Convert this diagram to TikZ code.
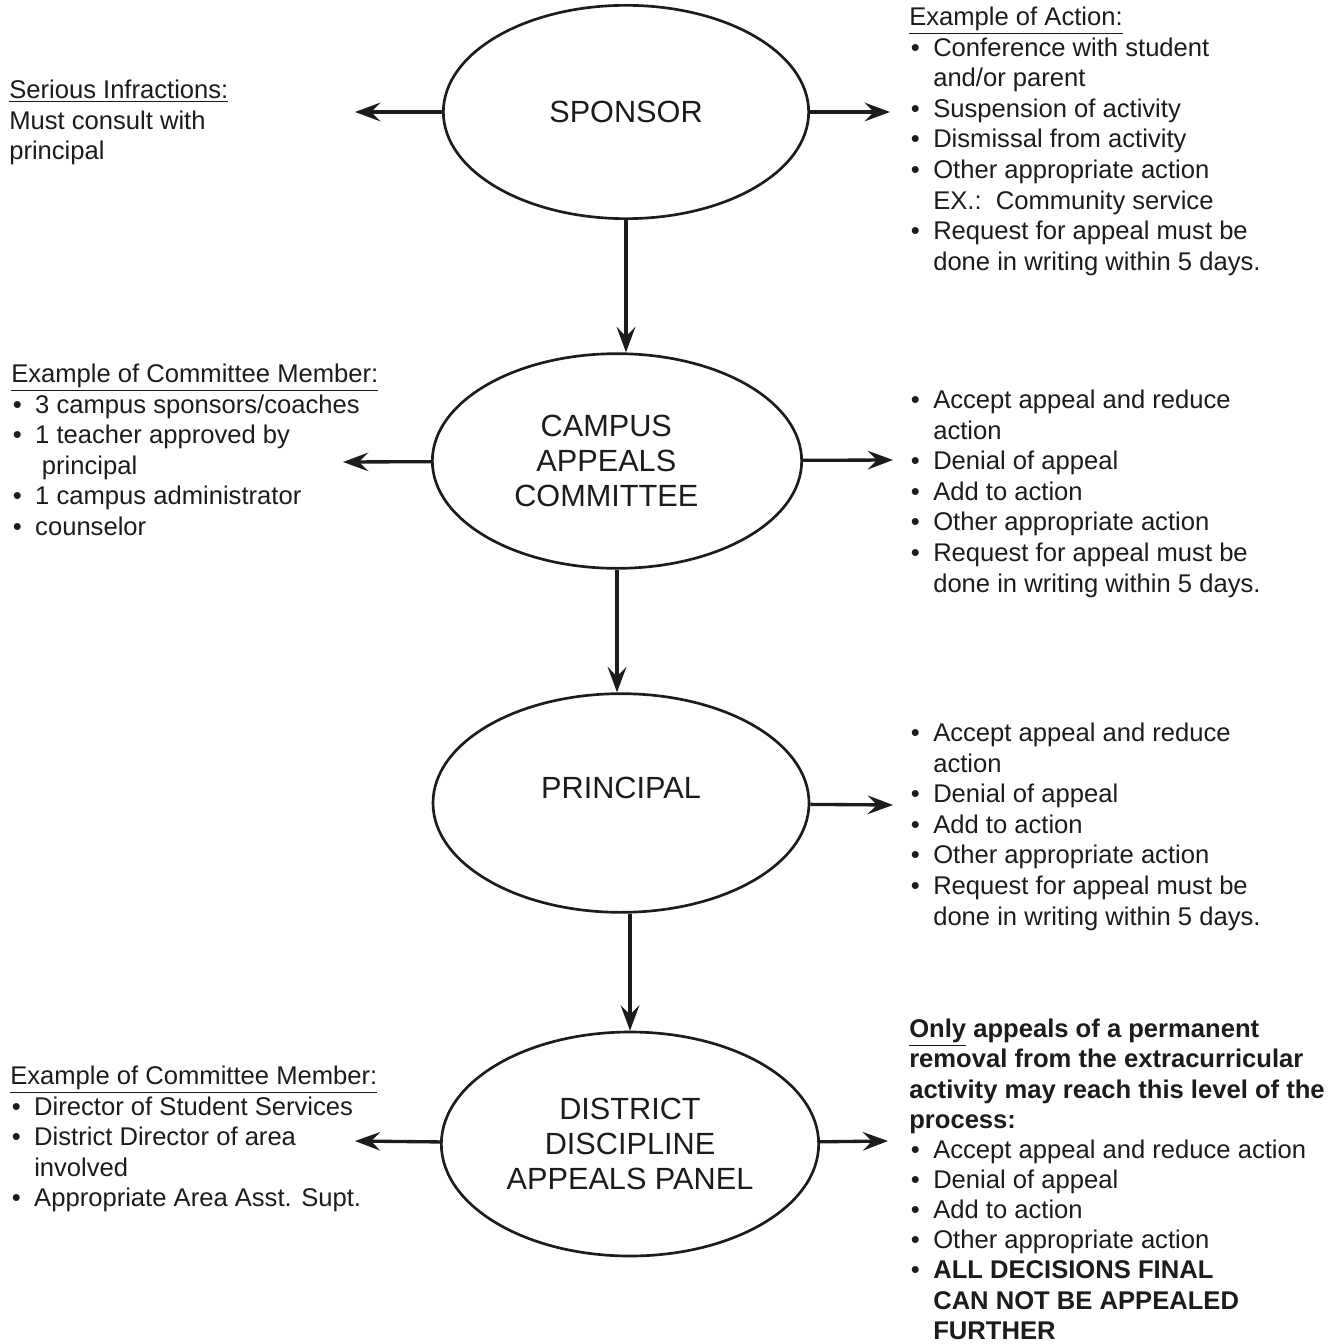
\documentclass[tikz,border=0pt]{standalone}
\usepackage{fontspec}
\setmainfont{Liberation Sans}
\usepackage{tikz}
\usetikzlibrary{shapes.geometric, arrows.meta}
\definecolor{inkgray}{RGB}{28, 28, 28}
\newcommand{\bul}{\makebox[18pt][l]{\hspace{1.2pt}\textbullet}}
\newcommand{\ind}{\hspace*{18pt}}

\begin{document}
\begin{tikzpicture}[x=0.75pt, y=-0.75pt,
  stage/.style={ellipse, draw=inkgray, line width=2pt, inner sep=0pt, align=center,
    text=inkgray, font=\fontsize{23}{26}\selectfont},
  notes/.style={anchor=north west, inner sep=0pt, align=left, text=inkgray,
    font=\fontsize{19.2}{22.9}\selectfont},
  arr/.style={draw=inkgray, line width=2.5pt, -{Stealth[length=19pt, width=14pt, inset=7pt]}}]
  \useasboundingbox (0,0) rectangle (1340,1344);
  \fill[white] (0,0) rectangle (1340,1344);

  % Appeal levels
  \node[stage, minimum width=274pt, minimum height=160pt] (sponsor) at (626, 112) {SPONSOR};
  \node[stage, minimum width=277pt, minimum height=161pt] (campus) at (617, 461)
    {\hspace*{-16pt}CAMPUS\\\hspace*{-16pt}APPEALS\\\hspace*{-16pt}COMMITTEE};
  \node[stage, minimum width=282pt, minimum height=164pt] (principal) at (621, 803)
    {\raisebox{11pt}[\height][\depth]{PRINCIPAL}};
  \node[stage, minimum width=283pt, minimum height=168pt] (district) at (630, 1144) {DISTRICT\\DISCIPLINE\\APPEALS PANEL};

  % Free ends of the side arrows
  \coordinate (spL) at (355, 112);
  \coordinate (spR) at (890, 112);
  \coordinate (caL) at (343, 462);
  \coordinate (caR) at (893, 460);
  \coordinate (prR) at (893, 805);
  \coordinate (diL) at (355, 1141);
  \coordinate (diR) at (888, 1141);

  % Side notes
  \node[notes] (infr) at (9, 80) {\underline{Serious Infractions:}\\Must consult with\\principal};
  \node[notes] (act) at (909, 7) {\underline{Example of Action:}\\
    \bul Conference with student\\ \ind and/or parent\\
    \bul Suspension of activity\\
    \bul Dismissal from activity\\
    \bul Other appropriate action\\ \ind EX.:\ \ Community service\\
    \bul Request for appeal must be\\ \ind done in writing within 5 days.};
  \node[notes] (comm) at (11, 364) {\underline{Example of Committee Member:}\\
    \bul 3 campus sponsors/coaches\\
    \bul 1 teacher approved by\\ \hspace*{23pt}principal\\
    \bul 1 campus administrator\\
    \bul counselor};
  \node[notes] (campR) at (909, 390) {\bul Accept appeal and reduce\\ \ind action\\
    \bul Denial of appeal\\
    \bul Add to action\\
    \bul Other appropriate action\\
    \bul Request for appeal must be\\ \ind done in writing within 5 days.};
  \node[notes] (prinR) at (909, 723) {\bul Accept appeal and reduce\\ \ind action\\
    \bul Denial of appeal\\
    \bul Add to action\\
    \bul Other appropriate action\\
    \bul Request for appeal must be\\ \ind done in writing within 5 days.};
  \node[notes] (distL) at (10, 1066) {\underline{Example of Committee Member:}\\
    \bul Director of Student Services\\
    \bul District Director of area\\ \ind involved\\
    \bul Appropriate Area Asst. Supt.};
  \node[notes, font=\fontsize{19.2}{22.6}\selectfont] (distR) at (909, 1019) {\textbf{\underline{Only} appeals of a permanent}\\
    \textbf{removal from the extracurricular}\\
    \textbf{activity may reach this level of the}\\
    \textbf{process:}\\
    \bul Accept appeal and reduce action\\
    \bul Denial of appeal\\
    \bul Add to action\\
    \bul Other appropriate action\\
    \bul \textbf{ALL DECISIONS FINAL}\\ \ind\textbf{CAN NOT BE APPEALED}\\ \ind\textbf{FURTHER}};

  % Arrows
  \foreach \a/\b in {sponsor/spL, sponsor/spR, campus/caL, campus/caR, principal/prR, district/diL, district/diR} {
    \draw[arr] (\a) -- (\b);
  }
  \draw[arr] (sponsor.south) -- (sponsor.south |- campus.north);
  \draw[arr] (campus.south) -- (campus.south |- principal.north);
  \draw[arr] (district.north |- principal.south) -- (district.north);
\end{tikzpicture}
\end{document}
